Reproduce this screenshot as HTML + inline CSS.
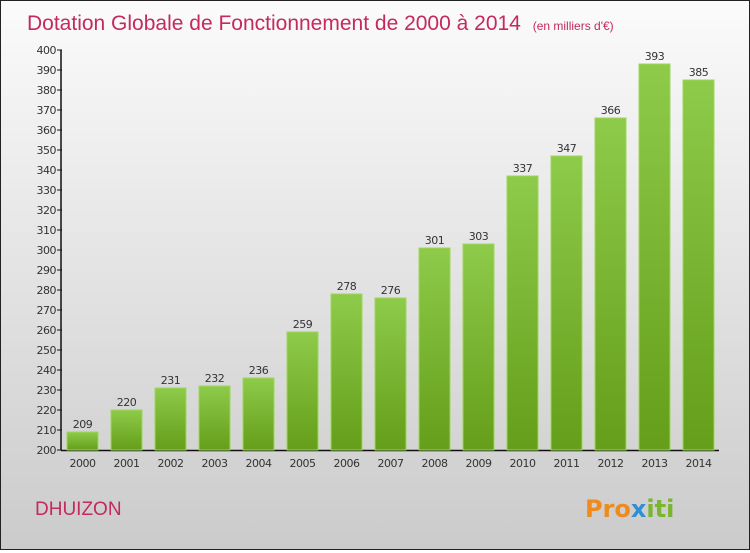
<!DOCTYPE html>
<html><head><meta charset="utf-8"><style>
body{margin:0}
#c{width:748px;height:548px;border:1px solid #222;background:linear-gradient(#fbfbfb,#cbcbcb);position:relative;font-family:"DejaVu Sans","Liberation Sans",sans-serif}
</style></head><body>
<div id="c">
<svg width="748" height="548" id="s">
<defs><linearGradient id="g" x1="0" y1="0" x2="0" y2="1"><stop offset="0" stop-color="#8ecb4a"/><stop offset="1" stop-color="#649e1a"/></linearGradient></defs>
<text x="26" y="29" font-size="21" fill="#c42a5c" font-family="Liberation Sans, sans-serif">Dotation Globale de Fonctionnement de 2000 à 2014 <tspan font-size="12" dx="6">(en milliers d'€)</tspan></text>
<text x="34" y="514" font-size="19" fill="#c42a5c" font-family="Liberation Sans, sans-serif">DHUIZON</text>
<text x="584" y="516" font-size="24" font-weight="bold" fill="#f08a1c">Pro<tspan fill="#2e8fd8">x</tspan><tspan fill="#7ab52f">iti</tspan></text>
</svg>
</div>
<script>
const years=["2000","2001","2002","2003","2004","2005","2006","2007","2008","2009","2010","2011","2012","2013","2014"];
const values=[209,220,231,232,236,259,278,276,301,303,337,347,366,393,385];
const yTicks=[200,210,220,230,240,250,260,270,280,290,300,310,320,330,340,350,360,370,380,390,400];
const s=document.getElementById('s');const NS='http://www.w3.org/2000/svg';
function y(v){return 449-(v-200)*2;}
function x(i){return 81+i*44;}
function mk(t,a,txt){const e=document.createElementNS(NS,t);for(const k in a)e.setAttribute(k,a[k]);if(txt!==undefined)e.textContent=txt;s.appendChild(e);return e;}
const ax=mk('line',{x1:60,y1:y(400),x2:60,y2:449.5,stroke:'#111','stroke-width':1.5});


const bx=mk('line',{x1:60,y1:449.5,x2:718,y2:449.5,stroke:'#111','stroke-width':1.5});


yTicks.forEach(v=>{
const t=mk('line',{x1:56,x2:61,y1:y(v),y2:y(v),stroke:'#111'});


const l=mk('text',{x:55,y:y(v)+4,'font-size':11,fill:'#333','text-anchor':'end','letter-spacing':'-0.5'},v);


});
years.forEach((yr,i)=>{
const v=values[i];
const r=mk('rect',{x:x(i)-15,y:y(v),width:31,height:449-y(v),fill:'url(#g)',stroke:'#9fd65a','stroke-width':1});


const vl=mk('text',{x:x(i)+0.5,y:y(v)-4,'font-size':11,fill:'#333','text-anchor':'middle','letter-spacing':'-0.5'},v);


const xl=mk('text',{x:x(i)+0.5,y:466,'font-size':11,fill:'#333','text-anchor':'middle','letter-spacing':'-0.5'},yr);


});
</script>
</body></html>
